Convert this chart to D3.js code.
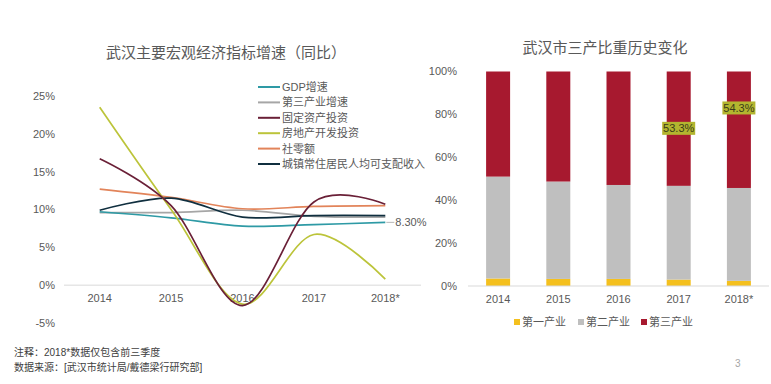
<!DOCTYPE html>
<html>
<head>
<meta charset="utf-8">
<script src="https://cdn.jsdelivr.net/npm/d3@7"></script>
<style>
  body { margin: 0; background: #fff; }
  svg { display: block; font-family: "Liberation Sans", "Noto Sans CJK SC", sans-serif; }
  .tick-label { font-size: 11px; fill: #595959; }
  .title { font-size: 15px; fill: #595959; font-family: "Noto Sans CJK SC", sans-serif; }
  .cjk { font-family: "Liberation Sans", "Noto Sans CJK SC", sans-serif; }
</style>
</head>
<body>
<div id="chart"></div>
<script>
// ---- data ----
const years = ["2014", "2015", "2016", "2017", "2018*"];
const yTicksLeft = [-5, 0, 5, 10, 15, 20, 25];

const gdp        = [9.7, 8.9, 7.8, 8.0, 8.3];
const tertiary   = [9.6, 9.6, 9.9, 9.1, 9.0];
const fixedAsset = [16.7, 10.5, -2.7, 11.0, 10.7];
const realEstate = [23.5, 10.0, -2.5, 6.7, 0.8];
const retail     = [12.7, 11.6, 10.1, 10.4, 10.5];
const income     = [9.9, 11.5, 9.0, 9.2, 9.2];

const seriesNames  = ["GDP增速", "第三产业增速", "固定资产投资", "房地产开发投资", "社零额", "城镇常住居民人均可支配收入"];
const seriesColors = ["#2e9aa5", "#a6a6a6", "#6a2037", "#bcc43a", "#e2845a", "#102f3f"];

const primaryShare   = [3.5, 3.3, 3.3, 3.0, 2.4];
const secondaryShare = [47.5, 45.4, 43.8, 43.7, 43.3];
const tertiaryShare  = [49.0, 51.3, 52.9, 53.3, 54.3];
const shareNames  = ["第一产业", "第二产业", "第三产业"];
const shareColors = ["#f4c01e", "#bfbfbf", "#a7192f"];
const yTicksRight = [0, 20, 40, 60, 80, 100];

const W = 771, H = 384;
const svg = d3.select("#chart").append("svg").attr("width", W).attr("height", H);

// ================= left: line chart =================
const x1 = d3.scaleBand().domain(years).range([64, 421]);
const y1 = d3.scaleLinear().domain([-5, 25]).range([323, 96]);
const cx1 = d => x1(d) + x1.bandwidth() / 2;

svg.append("text").attr("class", "title")
  .attr("x", 226).attr("y", 58).attr("text-anchor", "middle")
  .text("武汉主要宏观经济指标增速（同比）");

svg.selectAll(".ylab1").data(yTicksLeft).enter().append("text")
  .attr("class", "tick-label")
  .attr("x", 55).attr("y", d => y1(d)).attr("dy", "0.35em")
  .attr("text-anchor", "end")
  .text(d => d + "%");

svg.append("line")
  .attr("x1", 64).attr("x2", 421)
  .attr("y1", y1(0)).attr("y2", y1(0))
  .attr("stroke", "#d9d9d9").attr("stroke-width", 1);

svg.selectAll(".xlab1").data(years).enter().append("text")
  .attr("class", "tick-label")
  .attr("x", d => cx1(d)).attr("y", 298).attr("dy", "0.35em")
  .attr("text-anchor", "middle")
  .text(d => d);

const allSeries = [gdp, tertiary, fixedAsset, realEstate, retail, income];
const line = d3.line()
  .x((d, i) => cx1(years[i]))
  .y(d => y1(d))
  .curve(d3.curveCardinal.tension(0));

// draw order: keep the dark / prominent ones on top
const drawOrder = [1, 0, 4, 5, 3, 2];
drawOrder.forEach(k => {
  svg.append("path")
    .datum(allSeries[k])
    .attr("d", line)
    .attr("fill", "none")
    .attr("stroke", seriesColors[k])
    .attr("stroke-width", 1.7);
});

// data label for GDP 2018*
const lastX = cx1(years[4]), lastY = y1(gdp[4]);
svg.append("line")
  .attr("x1", lastX + 1).attr("x2", lastX + 9)
  .attr("y1", lastY).attr("y2", lastY)
  .attr("stroke", "#a6a6a6").attr("stroke-width", 0.8);
svg.append("text").attr("class", "tick-label")
  .attr("x", lastX + 10).attr("y", lastY).attr("dy", "0.35em")
  .text(gdp[4].toFixed(2) + "%");

// legend
const lg = svg.append("g").attr("transform", "translate(258,87)");
seriesNames.forEach((name, i) => {
  const g = lg.append("g").attr("transform", "translate(0," + (i * 15.4) + ")");
  g.append("line").attr("x1", 0).attr("x2", 22).attr("y1", 0).attr("y2", 0)
    .attr("stroke", seriesColors[i]).attr("stroke-width", 2);
  g.append("text").attr("class", "tick-label cjk")
    .attr("x", 24).attr("y", 0).attr("dy", "0.36em")
    .text(name);
});

// ================= right: stacked bars =================
const x2 = d3.scaleBand().domain(years).range([468, 769]);
const y2 = d3.scaleLinear().domain([0, 100]).range([286, 71.5]);
const barW = 24;

svg.append("text").attr("class", "title")
  .attr("x", 605).attr("y", 53).attr("text-anchor", "middle")
  .text("武汉市三产比重历史变化");

svg.selectAll(".ylab2").data(yTicksRight).enter().append("text")
  .attr("class", "tick-label")
  .attr("x", 457).attr("y", d => y2(d)).attr("dy", "0.35em")
  .attr("text-anchor", "end")
  .text(d => d + "%");

const table = years.map((yr, i) => ({ year: yr, p: primaryShare[i], s: secondaryShare[i], t: tertiaryShare[i] }));
const stacked = d3.stack().keys(["p", "s", "t"])(table);

stacked.forEach((layer, k) => {
  svg.selectAll(".bar" + k).data(layer).enter().append("rect")
    .attr("x", d => x2(d.data.year) + x2.bandwidth() / 2 - barW / 2)
    .attr("width", barW)
    .attr("y", d => y2(d[1]))
    .attr("height", d => y2(d[0]) - y2(d[1]))
    .attr("fill", shareColors[k]);
});

svg.append("line")
  .attr("x1", 468).attr("x2", 769)
  .attr("y1", y2(0)).attr("y2", y2(0))
  .attr("stroke", "#d9d9d9").attr("stroke-width", 1);

svg.selectAll(".xlab2").data(years).enter().append("text")
  .attr("class", "tick-label")
  .attr("x", d => x2(d) + x2.bandwidth() / 2).attr("y", 299).attr("dy", "0.35em")
  .attr("text-anchor", "middle")
  .text(d => d);

// highlighted labels for 2017 and 2018*
const hl = [{ i: 3, at: 73.5 }, { i: 4, at: 83 }];
hl.forEach(h => {
  const cx = x2(years[h.i]) + x2.bandwidth() / 2;
  const cy = y2(h.at);
  svg.append("rect")
    .attr("x", cx - 16.5).attr("y", cy - 6.5)
    .attr("width", 33).attr("height", 13)
    .attr("fill", "#b3b52f");
  svg.append("text").attr("class", "tick-label")
    .style("fill", "#3a3a1a")
    .attr("x", cx).attr("y", cy).attr("dy", "0.36em")
    .attr("text-anchor", "middle")
    .text(tertiaryShare[h.i].toFixed(1) + "%");
});

// legend bottom
const legX = [514, 578, 641];
shareNames.forEach((name, i) => {
  svg.append("rect")
    .attr("x", legX[i]).attr("y", 319).attr("width", 6).attr("height", 6)
    .attr("fill", shareColors[i]);
  svg.append("text").attr("class", "tick-label cjk")
    .attr("x", legX[i] + 8).attr("y", 322).attr("dy", "0.36em")
    .text(name);
});

// ================= footer =================
svg.append("text").attr("x", 14).attr("y", 352).attr("dy", "0.35em")
  .style("font-size", "10px").style("fill", "#404040")
  .text("注释：2018*数据仅包含前三季度");
svg.append("text").attr("x", 14).attr("y", 367).attr("dy", "0.35em")
  .style("font-size", "10px").style("fill", "#404040")
  .text("数据来源：[武汉市统计局/戴德梁行研究部]");
svg.append("text").attr("x", 735).attr("y", 363).attr("dy", "0.35em")
  .style("font-size", "10px").style("fill", "#a6a6a6")
  .text("3");
</script>
</body>
</html>
